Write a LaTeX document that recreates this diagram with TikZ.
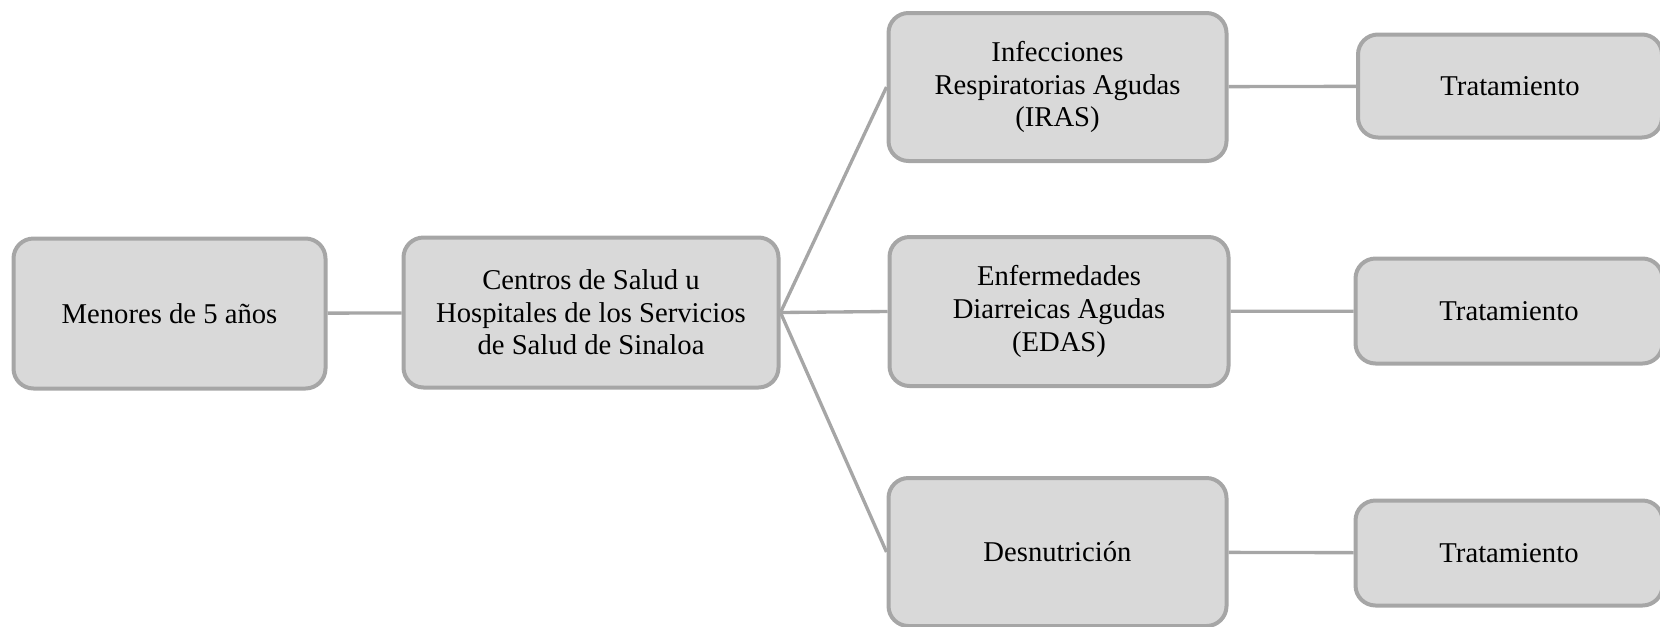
\documentclass[tikz,border=0pt]{standalone}
\usepackage{fontspec}
\setmainfont{Liberation Serif}
\usepackage{tikz}

\definecolor{boxfill}{RGB}{217,217,217}
\definecolor{boxline}{RGB}{166,166,166}

\begin{document}
\begin{tikzpicture}[x=0.75pt,y=0.75pt,yscale=-1,xscale=1,
	box/.style={draw=boxline, fill=boxfill, line width=3pt, rounded corners=15pt, align=center, inner sep=0pt, font=\fontsize{21.5}{24.5}\selectfont},
	link/.style={draw=boxline, line width=2.5pt}]
	%set diagram left start at 0, and has height of 626
	\useasboundingbox (0,0) rectangle (1660,626);
	
	%Shape: Rounded Rectangle
	\node [box, minimum width=312*0.75pt, minimum height=150*0.75pt] (menores) at (169.5,313.5) {Menores de 5 años};
	%Shape: Rounded Rectangle
	\node [box, minimum width=375*0.75pt, minimum height=150*0.75pt] (centros) at (591,312.5) {Centros de Salud u\\Hospitales de los Servicios\\de Salud de Sinaloa};
	%Shape: Rounded Rectangle
	\node [box, minimum width=338*0.75pt, minimum height=148*0.75pt] (iras) at (1057.5,87) {Infecciones\\Respiratorias Agudas\\(IRAS)};
	%Shape: Rounded Rectangle
	\node [box, minimum width=339*0.75pt, minimum height=149*0.75pt] (edas) at (1059,311.5) {Enfermedades\\Diarreicas Agudas\\(EDAS)};
	%Shape: Rounded Rectangle
	\node [box, minimum width=338*0.75pt, minimum height=148*0.75pt] (desnut) at (1057.5,552) {Desnutrición};
	%Shape: Rounded Rectangle
	\node [box, minimum width=304*0.75pt, minimum height=103*0.75pt] (tratA) at (1510,86) {Tratamiento};
	%Shape: Rounded Rectangle
	\node [box, minimum width=307*0.75pt, minimum height=105*0.75pt] (tratB) at (1509,311) {Tratamiento};
	%Shape: Rounded Rectangle
	\node [box, minimum width=307*0.75pt, minimum height=105*0.75pt] (tratC) at (1509,553) {Tratamiento};
	
	%Straight Lines
	\draw [link] (menores) -- (centros);
	\draw [link] (centros.east) -- (iras.west);
	\draw [link] (centros.east) -- (edas.west);
	\draw [link] (centros.east) -- (desnut.west);
	\draw [link] (iras) -- (tratA);
	\draw [link] (edas) -- (tratB);
	\draw [link] (desnut) -- (tratC);
\end{tikzpicture}
\end{document}
